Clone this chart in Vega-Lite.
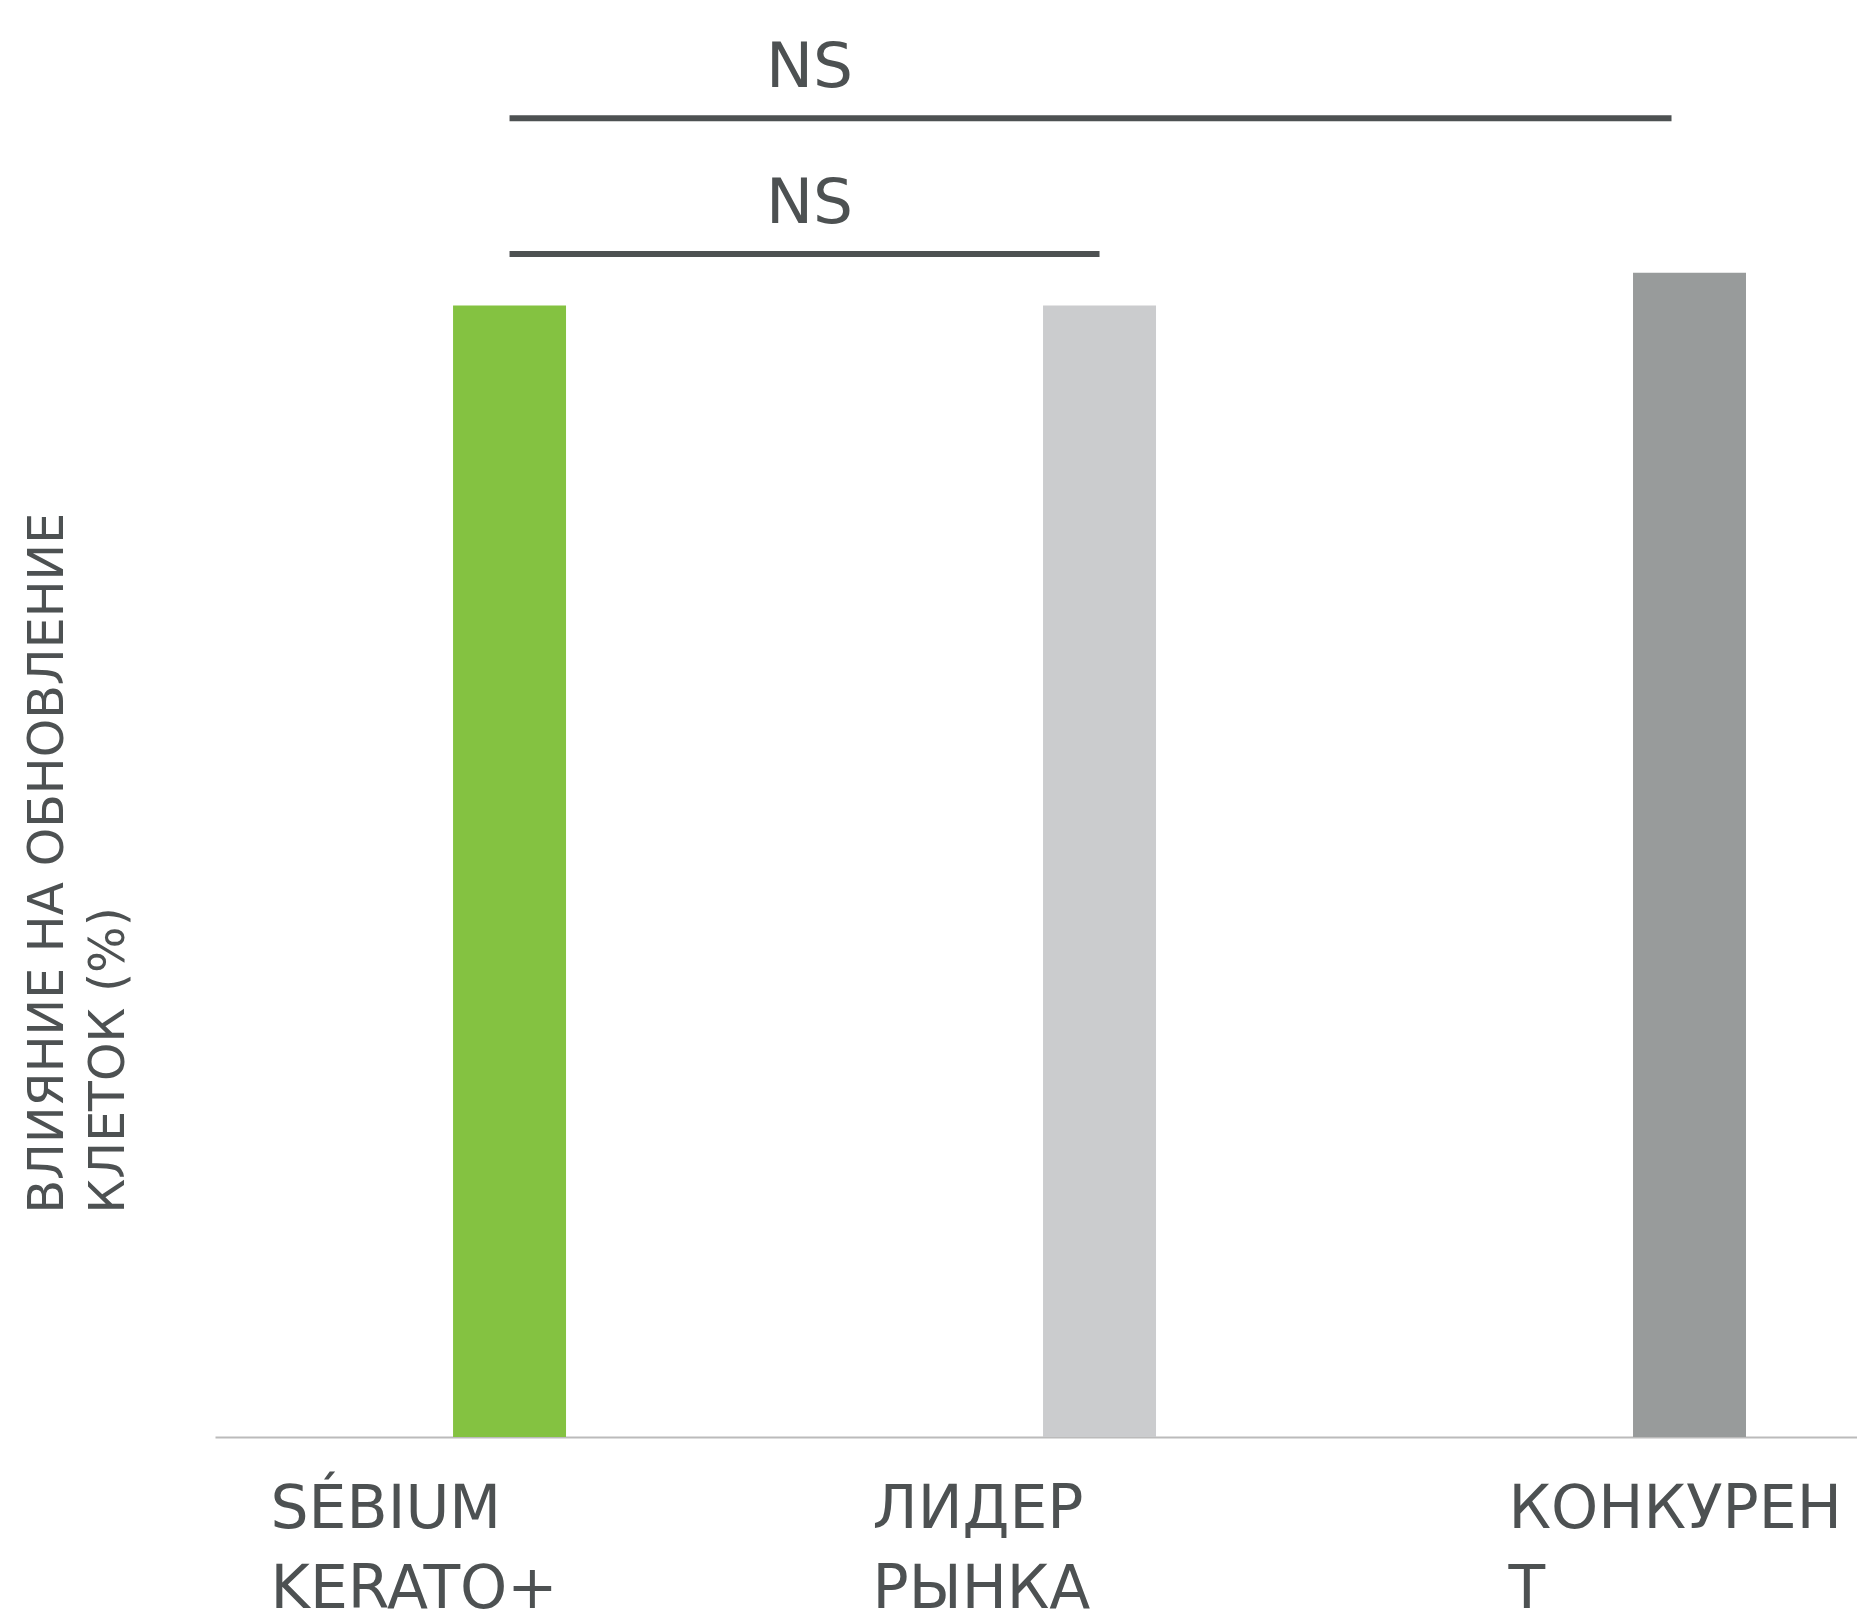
{
  "$schema": "https://vega.github.io/schema/vega-lite/v6.json",
  "autosize": "none",
  "width": 1642,
  "height": 1437,
  "padding": {"left": 215, "top": 0, "right": 0, "bottom": 174},
  "background": "white",
  "config": {"view": {"stroke": null}, "font": "DejaVu Sans"},
  "datasets": {
    "bars": [
      {"product": "SÉBIUM KERATO+", "value": 100},
      {"product": "ЛИДЕР РЫНКА", "value": 100},
      {"product": "КОНКУРЕНТ", "value": 102.9}
    ],
    "brackets": [
      {"from": "SÉBIUM KERATO+", "to": "ЛИДЕР РЫНКА", "level": 104.55, "label": "NS"},
      {"from": "SÉBIUM KERATO+", "to": "КОНКУРЕНТ", "level": 116.56, "label": "NS"}
    ]
  },
  "layer": [
    {
      "data": {"name": "bars"},
      "mark": {"type": "bar"},
      "encoding": {
        "x": {
          "field": "product",
          "type": "nominal",
          "sort": null,
          "scale": {
            "domain": ["SÉBIUM KERATO+", "ЛИДЕР РЫНКА", "КОНКУРЕНТ"],
            "paddingInner": 0.8085,
            "paddingOuter": 0.2958,
            "align": 0.682
          },
          "axis": {
            "title": null,
            "ticks": false,
            "domainColor": "#BBBBBB",
            "domainWidth": 2,
            "labelAngle": 0,
            "labelAlign": "left",
            "labelBaseline": "alphabetic",
            "labelPadding": 90,
            "labelOffset": {
              "condition": [
                {"test": "datum.value == 'SÉBIUM KERATO+'", "value": -239},
                {"test": "datum.value == 'ЛИДЕР РЫНКА'", "value": -227}
              ],
              "value": -181
            },
            "labelFont": "DejaVu Sans",
            "labelFontSize": 60,
            "labelColor": "#4D5152",
            "labelLineHeight": 80,
            "labelLimit": 1000,
            "labelOverlap": false,
            "labelBound": false,
            "labelFlush": false,
            "labelExpr": "datum.label == 'КОНКУРЕНТ' ? ['КОНКУРЕН', 'Т'] : split(datum.label, ' ')"
          }
        },
        "y": {
          "field": "value",
          "type": "quantitative",
          "scale": {"domain": [0, 127], "nice": false, "zero": true},
          "axis": {
            "title": ["ВЛИЯНИЕ НА ОБНОВЛЕНИЕ", "КЛЕТОК (%)"],
            "domain": false,
            "ticks": false,
            "labels": false,
            "grid": false,
            "titleFont": "DejaVu Sans",
            "titleFontSize": 49,
            "titleFontWeight": "normal",
            "titleColor": "#4D5152",
            "titleAngle": -90,
            "titleAlign": "left",
            "titleBaseline": "alphabetic",
            "titleLineHeight": 61,
            "titleX": -153,
            "titleY": 1213
          }
        },
        "color": {
          "field": "product",
          "type": "nominal",
          "scale": {
            "domain": ["SÉBIUM KERATO+", "ЛИДЕР РЫНКА", "КОНКУРЕНТ"],
            "range": ["#84C241", "#CBCCCE", "#989B9B"]
          },
          "legend": null
        }
      }
    },
    {
      "data": {"name": "brackets"},
      "transform": [{"filter": "datum.to == 'ЛИДЕР РЫНКА'"}],
      "mark": {"type": "rule", "strokeWidth": 6, "color": "#4D5152"},
      "encoding": {
        "x": {"field": "from", "type": "nominal"},
        "x2": {"field": "to"},
        "y": {"field": "level", "type": "quantitative"}
      }
    },
    {
      "data": {"name": "brackets"},
      "transform": [{"filter": "datum.to == 'КОНКУРЕНТ'"}],
      "mark": {"type": "rule", "strokeWidth": 6, "color": "#4D5152", "x2Offset": -18},
      "encoding": {
        "x": {"field": "from", "type": "nominal"},
        "x2": {"field": "to"},
        "y": {"field": "level", "type": "quantitative"}
      }
    },
    {
      "data": {"name": "brackets"},
      "mark": {"type": "text", "dx": 300, "dy": -31, "align": "center", "baseline": "alphabetic", "fontSize": 63, "font": "DejaVu Sans", "color": "#4D5152"},
      "encoding": {
        "x": {"field": "from", "type": "nominal"},
        "y": {"field": "level", "type": "quantitative"},
        "text": {"field": "label"}
      }
    }
  ]
}
